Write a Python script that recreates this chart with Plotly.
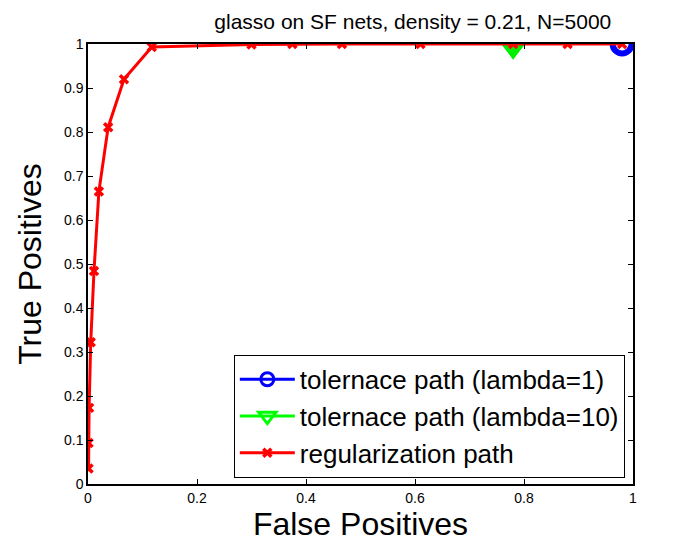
import plotly.graph_objects as go

reg_fp = [0.001, 0.001, 0.002, 0.005, 0.011, 0.020, 0.037, 0.066, 0.117, 0.30, 0.375, 0.466, 0.61, 0.78, 0.88, 0.98]
reg_tp = [0.035, 0.093, 0.173, 0.322, 0.484, 0.665, 0.811, 0.920, 0.993, 0.999, 1.0, 1.0, 1.0, 1.0, 1.0, 1.0]
tol1_fp = [0.98]
tol1_tp = [1.0]
tol10_fp = [0.78]
tol10_tp = [1.0]

x_ticks = [0, 0.2, 0.4, 0.6, 0.8, 1]
x_labels = ["0", "0.2", "0.4", "0.6", "0.8", "1"]
y_ticks = [0, 0.1, 0.2, 0.3, 0.4, 0.5, 0.6, 0.7, 0.8, 0.9, 1]
y_labels = ["0", "0.1", "0.2", "0.3", "0.4", "0.5", "0.6", "0.7", "0.8", "0.9", "1"]

FONT = "Liberation Sans, Arial, sans-serif"

fig = go.Figure()
# plotted markers (no legend)
fig.add_trace(go.Scatter(x=tol1_fp, y=tol1_tp, mode="lines+markers", showlegend=False,
                         line=dict(color="#0000ff", width=3),
                         marker=dict(symbol="circle-open", size=19, line=dict(color="#0000ff", width=6))))
fig.add_trace(go.Scatter(x=tol10_fp, y=tol10_tp, mode="lines+markers", showlegend=False,
                         line=dict(color="#00ff00", width=3),
                         marker=dict(symbol="triangle-down", size=28, color="#00ee00",
                                     line=dict(color="#00ee00", width=2))))
fig.add_trace(go.Scatter(x=reg_fp, y=reg_tp, mode="lines+markers", name="regularization path",
                         line=dict(color="#ff0000", width=3),
                         marker=dict(symbol="x-thin-open", size=8, line=dict(color="#ff0000", width=3.5))))
# legend entries
fig.add_trace(go.Scatter(x=[None], y=[None], mode="lines+markers", name="tolernace path (lambda=1)",
                         line=dict(color="#0000ff", width=3),
                         marker=dict(symbol="circle-open", size=13, line=dict(color="#0000ff", width=3))))
fig.add_trace(go.Scatter(x=[None], y=[None], mode="lines+markers", name="tolernace path (lambda=10)",
                         line=dict(color="#00ff00", width=3),
                         marker=dict(symbol="triangle-down-open", size=15, line=dict(color="#00ff00", width=3))))

# reorder legend: put regularization last
fig.data = (fig.data[0], fig.data[1], fig.data[3], fig.data[4], fig.data[2])

axis_common = dict(showline=True, linecolor="black", linewidth=1.5, mirror="ticks",
                   ticks="inside", ticklen=5, tickcolor="black", showgrid=False, zeroline=False,
                   tickfont=dict(family=FONT, size=14, color="black"))

fig.update_layout(
    width=690, height=545,
    margin=dict(l=88, r=57, t=44, b=61),
    paper_bgcolor="white", plot_bgcolor="white",
    font=dict(family=FONT, color="black"),
    title=dict(text="glasso on SF nets, density = 0.21, N=5000", x=0.596, xref="paper", xanchor="center",
               y=1, yref="paper", yanchor="bottom", pad=dict(b=15),
               font=dict(family=FONT, size=21, color="black")),
    xaxis=dict(range=[0, 1], tickvals=x_ticks, ticktext=x_labels,
               title=dict(text="False Positives", font=dict(family=FONT, size=32), standoff=5),
               **axis_common),
    yaxis=dict(range=[0, 1], tickvals=y_ticks, ticktext=y_labels,
               title=dict(text="True Positives", font=dict(family=FONT, size=32), standoff=13),
               **axis_common),
    legend=dict(x=0.985, y=0.014, xanchor="right", yanchor="bottom",
                bgcolor="white", bordercolor="black", borderwidth=1,
                font=dict(family=FONT, size=26, color="black"), tracegroupgap=0,
                itemwidth=55),
)

fig.write_html("out.html")
